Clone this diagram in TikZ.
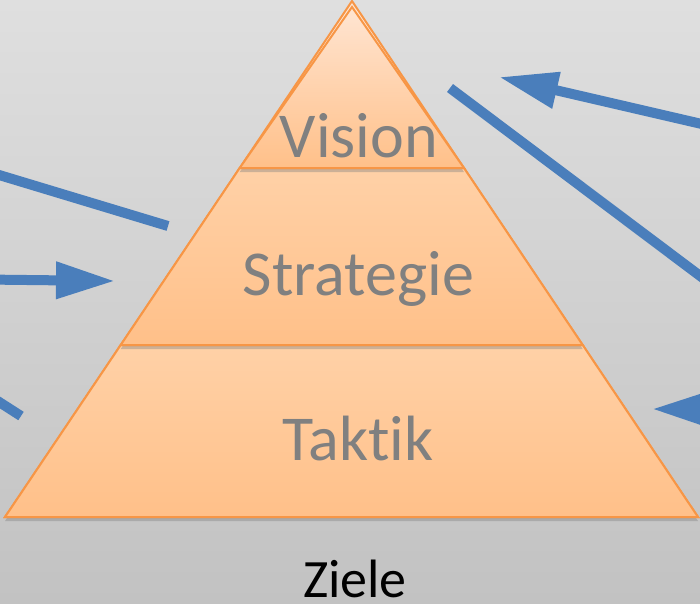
\documentclass[tikz,border=0pt]{standalone}
\usepackage{fontspec}
\setmainfont{Carlito}[Ligatures=NoCommon]
\usetikzlibrary{arrows.meta}
\usetikzlibrary{shadows}
\definecolor{bgtop}{RGB}{223,223,223}
\definecolor{bgbot}{RGB}{194,194,194}
\definecolor{pyrline}{RGB}{247,150,70}
\definecolor{peachlight}{RGB}{255,229,210}
\definecolor{peachmid}{RGB}{255,209,167}
\definecolor{peachdark}{RGB}{255,192,137}
\definecolor{flowblue}{RGB}{74,126,187}
\definecolor{labelgray}{RGB}{128,128,128}
\tikzstyle{layer}=[draw=pyrline, line width=2pt, drop shadow={shadow xshift=0pt, shadow yshift=-4pt, opacity=0.4}]
\tikzstyle{flowline}=[draw=flowblue, line width=10pt]
\tikzstyle{flow}=[flowline, -{Triangle[length=59pt, width=35pt]}]
\tikzstyle{level}=[font=\fontsize{64}{64}\selectfont, text=labelgray, anchor=base, inner sep=0pt]

\begin{document}
\begin{tikzpicture}[x=1pt, y=-1pt]
        \useasboundingbox (0,0) rectangle (700,603);
        \clip (0,0) rectangle (700,603);
        \shade[top color=bgtop, bottom color=bgbot] (0,0) rectangle (700,603);
        \coordinate (apex) at (352,1);
        \coordinate (vtop) at (352,7);
        \coordinate (bl) at (5,517);
        \coordinate (br) at (698,517);
        \coordinate (ml) at (120.7,345);
        \coordinate (mr) at (582.7,345);
        \coordinate (tl) at (239.7,168);
        \coordinate (tr) at (464,168);
        \path[draw=pyrline, line width=2pt, fill=peachlight] (apex) -- (bl) -- (br) -- cycle;
        \path[layer, top color=peachmid, bottom color=peachdark] (ml) -- (bl) -- (br) -- (mr) -- cycle;
        \path[layer, top color=peachmid, bottom color=peachdark] (tl) -- (ml) -- (mr) -- (tr) -- cycle;
        \path[layer, top color=peachlight, bottom color=peachdark] (vtop) -- (tl) -- (tr) -- cycle;
        \node[level] (vision) at (359,157) {Vision};
        \node[level] (strategie) at (358.5,295) {Strategie};
        \node[level] (taktik) at (358,460) {Taktik};
        \node[font=\fontsize{54}{54}\selectfont, anchor=base, inner sep=0pt] (ziele) at (355,597) {Ziele};
        \coordinate (lefttopin) at (168,226);
        \coordinate (lefttopout) at (-130,136);
        \coordinate (leftmidout) at (-60,279);
        \coordinate (leftmidin) at (115,281);
        \coordinate (leftlowin) at (21,416);
        \coordinate (leftlowout) at (-110,332);
        \coordinate (righttopout) at (760,137.5);
        \coordinate (righttopin) at (499,77);
        \coordinate (rightlongin) at (450,88);
        \coordinate (rightlongout) at (800,351);
        \coordinate (rightlowout) at (800,410);
        \coordinate (rightlowin) at (652,409);
        \draw[flow] (lefttopin) -- (lefttopout);
        \draw[flow] (leftmidout) -- (leftmidin);
        \draw[flow] (leftlowin) -- (leftlowout);
        \draw[flow] (righttopout) -- (righttopin);
        \draw[flow] (rightlongin) -- (rightlongout);
        \draw[flow] (rightlowout) -- (rightlowin);
    \end{tikzpicture}
\end{document}
